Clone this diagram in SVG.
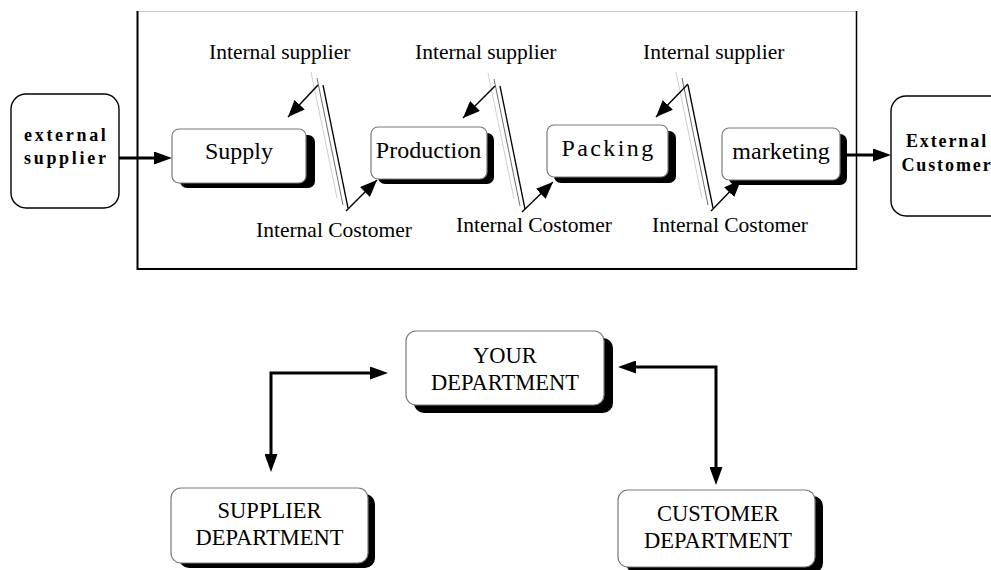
<svg xmlns="http://www.w3.org/2000/svg" xmlns:xlink="http://www.w3.org/1999/xlink" width="991" height="570" viewBox="0 0 991 570">
  <style>
    .t { font-family: "Liberation Serif", "Times New Roman", serif; fill: #000; }
    .lbl { font-size: 21.5px; }
    .box-t { font-size: 24px; text-anchor: middle; }
    .dept-t { font-size: 22.5px; text-anchor: middle; }
    .ext-t { font-size: 18px; font-weight: bold; text-anchor: middle; }
    .card { fill: #fff; stroke: #7a7a7a; stroke-width: 1.2; }
    .shadow { fill: #000; }
    .term { fill: #fff; stroke: #000; stroke-width: 1.4; }
    .thick { fill: none; stroke: #000; stroke-width: 3; }
    .thin { fill: none; stroke: #000; stroke-width: 1.4; }
  </style>
  <defs>
    <!-- large head for thick flow lines; tip sits 6px past the line end -->
    <marker id="head" markerUnits="userSpaceOnUse" viewBox="0 0 18 13" markerWidth="18" markerHeight="13" refX="12" refY="6.5" orient="auto-start-reverse">
      <path d="M0,0 L18,6.5 L0,13 z" fill="#000"/>
    </marker>
    <!-- head for the slim hand-over arrows -->
    <marker id="head-s" markerUnits="userSpaceOnUse" viewBox="0 0 17 14" markerWidth="17" markerHeight="14" refX="17" refY="7" orient="auto">
      <path d="M0,0 L17,7 L0,14 z" fill="#000"/>
    </marker>
    <!-- slanted triple-line divider between stages -->
    <g id="divider">
      <line x1="0" y1="0" x2="26" y2="126" stroke="#cfcfcf" stroke-width="1"/>
      <line x1="6" y1="6" x2="32" y2="133" stroke="#6e6e6e" stroke-width="1"/>
      <line x1="12" y1="13" x2="37" y2="136" stroke="#000" stroke-width="1.3"/>
    </g>
  </defs>

  <rect width="991" height="570" fill="#fff"/>

  <!-- process frame -->
  <g id="frame">
    <line x1="137" y1="11.5" x2="857" y2="11.5" stroke="#c8c8c8" stroke-width="1"/>
    <line x1="137.5" y1="11" x2="137.5" y2="270" stroke="#000" stroke-width="2"/>
    <line x1="137" y1="269" x2="857" y2="269" stroke="#000" stroke-width="2"/>
    <line x1="856.5" y1="11" x2="856.5" y2="270" stroke="#000" stroke-width="1.5"/>
  </g>

  <!-- stage dividers -->
  <g id="dividers">
    <use xlink:href="#divider" x="311" y="72"/>
    <use xlink:href="#divider" x="488" y="73"/>
    <use xlink:href="#divider" x="676" y="72"/>
  </g>

  <!-- connectors -->
  <g id="connectors">
    <line class="thick" x1="119" y1="158" x2="166" y2="158" marker-end="url(#head)"/>
    <line class="thick" x1="847" y1="155" x2="885" y2="155" stroke-width="2.6" marker-end="url(#head)"/>

    <line class="thin" x1="318" y1="85" x2="288" y2="117" marker-end="url(#head-s)"/>
    <line class="thin" x1="346" y1="211" x2="377" y2="180" marker-end="url(#head-s)"/>
    <line class="thin" x1="495" y1="86" x2="463" y2="118" marker-end="url(#head-s)"/>
    <line class="thin" x1="522" y1="212" x2="553" y2="182" marker-end="url(#head-s)"/>
    <line class="thin" x1="688" y1="84" x2="656" y2="117" marker-end="url(#head-s)"/>
    <line class="thin" x1="711" y1="211" x2="741" y2="180" marker-end="url(#head-s)"/>

    <path class="thick" d="M382,373 H271 V466" stroke-width="3.5" marker-start="url(#head)" marker-end="url(#head)"/>
    <path class="thick" d="M624,367 H716 V479" stroke-width="3.5" marker-start="url(#head)" marker-end="url(#head)"/>
  </g>

  <!-- hand-over labels -->
  <g id="labels" class="t lbl">
    <text x="209" y="59">Internal supplier</text>
    <text x="415" y="59">Internal supplier</text>
    <text x="643" y="59">Internal supplier</text>
    <text x="256" y="237">Internal Costomer</text>
    <text x="456" y="232">Internal Costomer</text>
    <text x="652" y="232">Internal Costomer</text>
  </g>

  <g id="external-supplier">
    <rect class="term" x="11" y="94" width="108" height="114" rx="15"/>
    <text class="t ext-t" x="65" y="141" letter-spacing="2.7"><tspan x="66.3">external</tspan></text>
    <text class="t ext-t" x="65" y="164" letter-spacing="2.7"><tspan x="66.3">supplier</tspan></text>
  </g>

  <g id="supply">
    <rect class="shadow" x="180" y="135" width="135" height="53" rx="7"/>
    <rect class="card" x="172" y="129" width="134" height="54" rx="7"/>
    <text class="t box-t" x="239" y="159">Supply</text>
  </g>

  <g id="production">
    <rect class="shadow" x="378" y="133" width="116" height="51" rx="7"/>
    <rect class="card" x="371" y="127" width="116" height="52" rx="7"/>
    <text class="t box-t" x="428.5" y="158">Production</text>
  </g>

  <g id="packing">
    <rect class="shadow" x="554" y="131" width="122" height="52" rx="7"/>
    <rect class="card" x="547" y="125" width="121" height="52" rx="7"/>
    <text class="t box-t" x="608.5" y="156" letter-spacing="2.4">Packing</text>
  </g>

  <g id="marketing">
    <rect class="shadow" x="729" y="134" width="118" height="51" rx="7"/>
    <rect class="card" x="722" y="128" width="118" height="52" rx="7"/>
    <text class="t box-t" x="781" y="159">marketing</text>
  </g>

  <g id="external-customer">
    <rect class="term" x="891" y="96" width="115" height="120" rx="15"/>
    <text class="t ext-t" x="947" y="147" letter-spacing="1.9">External</text>
    <text class="t ext-t" x="947" y="171" letter-spacing="1.9">Customer</text>
  </g>

  <g id="your-department">
    <rect class="shadow" x="414" y="338" width="199" height="75" rx="10"/>
    <rect class="card" x="406" y="331" width="198" height="74" rx="10"/>
    <text class="t dept-t" x="505" y="363">YOUR</text>
    <text class="t dept-t" x="505" y="390">DEPARTMENT</text>
  </g>

  <g id="supplier-department">
    <rect class="shadow" x="179" y="494" width="196" height="74" rx="10"/>
    <rect class="card" x="171" y="488" width="197" height="75" rx="10"/>
    <text class="t dept-t" x="269.5" y="518">SUPPLIER</text>
    <text class="t dept-t" x="269.5" y="545">DEPARTMENT</text>
  </g>

  <g id="customer-department">
    <rect class="shadow" x="626" y="496" width="197" height="77" rx="10"/>
    <rect class="card" x="618" y="490" width="197" height="77" rx="10"/>
    <text class="t dept-t" x="718" y="521">CUSTOMER</text>
    <text class="t dept-t" x="718" y="548">DEPARTMENT</text>
  </g>
</svg>
